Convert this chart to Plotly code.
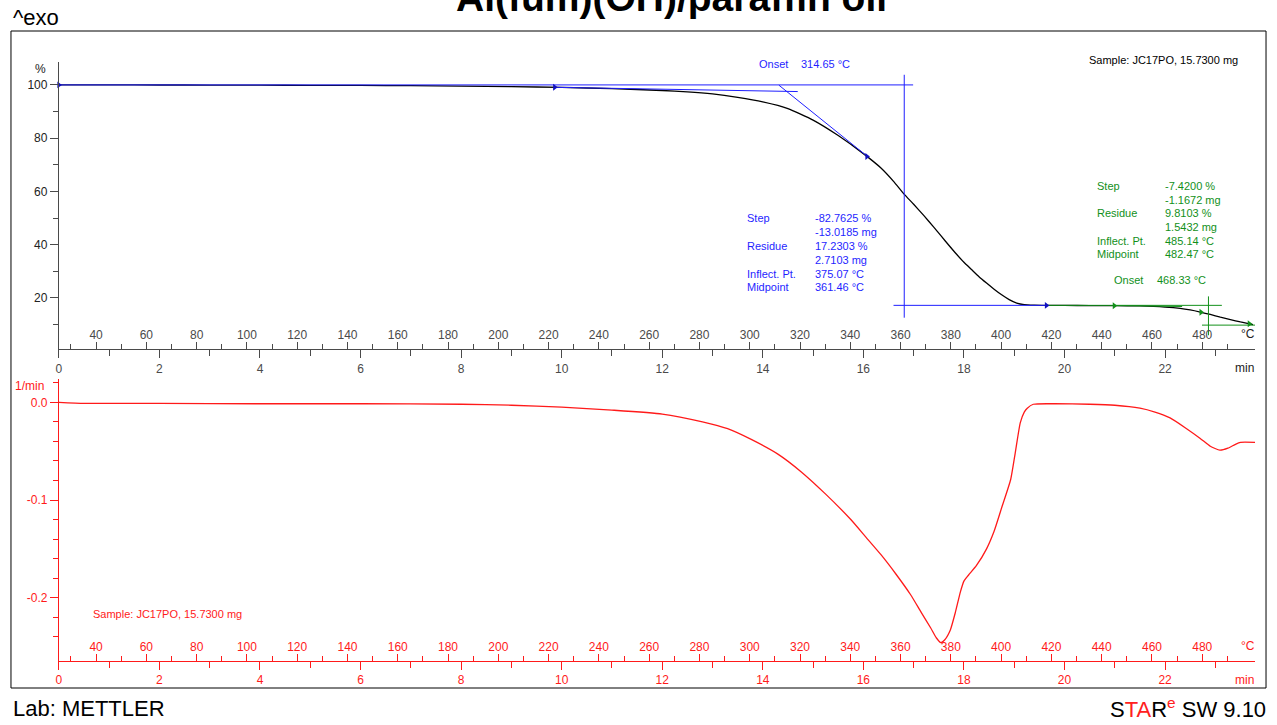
import numpy as np
import plotly.graph_objects as go

W, H = 1277, 725

# Heating program: linear 20 K/min ramp starting at 25.2 °C
T_START = 25.2
HEAT_RATE = 20.0
T_RANGE_MIN = 23.79

# TGA curve: time (min) -> mass (%)
tga_time = [0, 1, 2, 3, 4, 5, 6, 7, 8, 9, 10, 11, 12, 12.5, 13, 13.5, 14, 14.5, 15,
            15.5, 16, 16.35, 16.6, 16.81, 17, 17.2, 17.4, 17.55, 17.7, 17.85, 18,
            18.15, 18.3, 18.45, 18.6, 18.75, 18.9, 19.05, 19.2, 19.4, 19.7, 20, 20.5,
            21, 21.5, 22, 22.3, 22.5, 22.7, 22.9, 23.1, 23.3, 23.5, 23.75]
tga_mass = [100.0, 100.0, 99.97, 99.95, 99.9, 99.85, 99.8, 99.7, 99.55, 99.35, 99.05,
            98.6, 97.9, 97.4, 96.6, 95.3, 93.6, 91.1, 86.8, 81.0, 74.2, 68.8, 63.8,
            59.0, 55.2, 51.0, 46.6, 43.2, 39.8, 36.5, 33.4, 30.7, 28.0, 25.6, 23.3,
            21.2, 19.4, 18.1, 17.5, 17.3, 17.2, 17.2, 17.15, 17.1, 17.0, 16.6, 16.1,
            15.5, 14.7, 13.8, 12.8, 11.9, 11.0, 10.0]

# First derivative (DTG): time (min) -> rate (1/min)
dtg_time = [0, 0.5, 2, 4, 6, 8, 9, 10, 11, 12, 12.8, 13.3, 13.77, 14.3, 14.76, 15.25,
            15.75, 16.05, 16.35, 16.65, 16.94, 17.15, 17.34, 17.45, 17.54, 17.62,
            17.73, 17.83, 17.93, 18.0, 18.09, 18.25, 18.45, 18.6, 18.75, 18.93, 19.02,
            19.12, 19.2, 19.26, 19.38, 19.8, 20.5, 21.0, 21.5, 21.8, 22.1, 22.4, 22.7,
            22.9, 23.09, 23.25, 23.4, 23.5, 23.79]
dtg_rate = [0.0, -0.001, -0.001, -0.0015, -0.0015, -0.002, -0.003, -0.005, -0.008,
            -0.012, -0.02, -0.027, -0.038, -0.053, -0.071, -0.094, -0.12, -0.138,
            -0.156, -0.176, -0.197, -0.215, -0.231, -0.241, -0.246, -0.243, -0.233,
            -0.215, -0.194, -0.183, -0.177, -0.167, -0.150, -0.132, -0.108, -0.079,
            -0.052, -0.021, -0.010, -0.006, -0.002, -0.0015, -0.002, -0.003, -0.006,
            -0.010, -0.016, -0.026, -0.037, -0.045, -0.049, -0.047, -0.043, -0.041,
            -0.041]

# Axis ticks
time_ticks = list(range(0, 23, 2))
time_minor = list(range(1, 24, 2))
temp_ticks = list(range(40, 481, 20))
temp_minor = list(range(30, 491, 20))
mass_ticks = [20, 40, 60, 80, 100]
mass_minor = [10, 30, 50, 70, 90]
rate_ticks = [-0.2, -0.1, 0.0]
rate_labels = ["-0.2", "-0.1", "0.0"]
rate_minor = [-0.26, -0.24, -0.22, -0.18, -0.16, -0.14, -0.12, -0.08, -0.06, -0.04,
              -0.02, 0.02]

# Step evaluation 1 (blue) — construction lines in °C / %
step1_level_T, step1_level_y = [25.2, 365.0], [100.0, 100.0]
step1_mid_T, step1_mid_y = [361.46, 361.46], [103.8, 12.6]
step1_res_T, step1_res_y = [357.2, 418.0], [17.23, 17.23]
step1_base_T, step1_base_y = [222.4, 319.1], [99.1, 97.5]
step1_tan_T, step1_tan_y = [311.6, 346.6], [99.9, 73.3]
step1_marks_T = [25.2, 222.4, 346.6, 418.0]

# Step evaluation 2 (green)
step2_level_T, step2_level_y = [418.0, 487.8], [17.23, 17.23]
step2_base_T, step2_base_y = [445.0, 472.0], [17.15, 16.8]
step2_mid_T, step2_mid_y = [482.47, 482.47], [20.6, 6.0]
step2_res_T, step2_res_y = [479.9, 501.0], [9.81, 9.81]
step2_marks_T = [445.0, 479.5, 498.7]

BLUE = "#1f1fff"
GREEN = "#12901a"
RED = "#ff1a1a"
AXIS_GREY = "#4a4a4a"
TICK_FONT = "Liberation Sans"

tga_T = T_START + HEAT_RATE * np.asarray(tga_time, dtype=float)


def on_curve(temps):
    return list(np.interp(temps, tga_T, tga_mass))


fig = go.Figure()

fig.add_trace(go.Scatter(x=tga_time, y=tga_mass, mode="lines", xaxis="x", yaxis="y",
                         line=dict(color="black", width=1.3, shape="spline", smoothing=0.5)))
fig.add_trace(go.Scatter(x=dtg_time, y=dtg_rate, mode="lines", xaxis="x3", yaxis="y2",
                         line=dict(color=RED, width=1.3, shape="spline", smoothing=0.5)))

# construction lines (temperature axes)
for xs, ys in [(step1_level_T, step1_level_y), (step1_mid_T, step1_mid_y),
               (step1_res_T, step1_res_y), (step1_base_T, step1_base_y),
               (step1_tan_T, step1_tan_y)]:
    fig.add_trace(go.Scatter(x=xs, y=ys, mode="lines", xaxis="x2", yaxis="y",
                             line=dict(color=BLUE, width=1)))
for xs, ys in [(step2_level_T, step2_level_y), (step2_base_T, step2_base_y),
               (step2_mid_T, step2_mid_y), (step2_res_T, step2_res_y)]:
    fig.add_trace(go.Scatter(x=xs, y=ys, mode="lines", xaxis="x2", yaxis="y",
                             line=dict(color=GREEN, width=1)))

fig.add_trace(go.Scatter(x=step1_marks_T, y=on_curve(step1_marks_T), mode="markers",
                         xaxis="x2", yaxis="y", cliponaxis=False,
                         marker=dict(symbol="triangle-right", size=6, color="#1010c0")))
fig.add_trace(go.Scatter(x=step2_marks_T, y=on_curve(step2_marks_T), mode="markers",
                         xaxis="x2", yaxis="y", cliponaxis=False,
                         marker=dict(symbol="triangle-right", size=6, color=GREEN)))
# keeps the lower temperature axis attached to a subplot
fig.add_trace(go.Scatter(x=[T_START], y=[0.0], mode="markers", xaxis="x4", yaxis="y2",
                         marker=dict(size=1, opacity=0), hoverinfo="skip"))

XDOM = [56 / W, 1255 / W]
T_RANGE = [T_START, T_START + HEAT_RATE * T_RANGE_MIN]


def time_axis(anchor, color):
    return dict(domain=XDOM, anchor=anchor, range=[0, T_RANGE_MIN], showgrid=False,
                zeroline=False, showline=True, linecolor=color, linewidth=1,
                tickmode="array", tickvals=time_ticks, ticks="outside", ticklen=8,
                tickcolor=color, tickwidth=1,
                tickfont=dict(family=TICK_FONT, size=12, color=color),
                minor=dict(tickvals=time_minor, ticks="outside", ticklen=6,
                           tickcolor=color, tickwidth=1))


def temp_axis(anchor, overlaying, color):
    return dict(domain=XDOM, anchor=anchor, overlaying=overlaying, side="bottom",
                range=T_RANGE, showgrid=False, zeroline=False, showline=False,
                tickmode="array", tickvals=temp_ticks, ticks="inside", ticklen=7,
                tickcolor=color, tickwidth=1, ticklabelposition="inside",
                tickfont=dict(family=TICK_FONT, size=12, color=color),
                minor=dict(tickvals=temp_minor, ticks="inside", ticklen=5,
                           tickcolor=color, tickwidth=1))


fig.update_layout(
    width=W, height=H, autosize=False,
    margin=dict(l=0, r=0, t=0, b=0),
    paper_bgcolor="white", plot_bgcolor="white", showlegend=False,
    xaxis=time_axis("y", AXIS_GREY),
    xaxis2=temp_axis("y", "x", AXIS_GREY),
    xaxis3=time_axis("y2", RED),
    xaxis4=temp_axis("y2", "x3", RED),
    yaxis=dict(domain=[1 - 349.3 / H, 1 - 62 / H], anchor="x", range=[0.73, 108.6],
               showgrid=False, zeroline=False, showline=True, linecolor=AXIS_GREY,
               tickmode="array", tickvals=mass_ticks, ticks="outside", ticklen=8,
               tickcolor=AXIS_GREY, tickfont=dict(family=TICK_FONT, size=12, color="#222"),
               minor=dict(tickvals=mass_minor, ticks="outside", ticklen=5,
                          tickcolor=AXIS_GREY)),
    yaxis2=dict(domain=[1 - 661 / H, 1 - 379 / H], anchor="x3", range=[-0.2648, 0.02385],
                showgrid=False, zeroline=False, showline=True, linecolor=RED,
                tickmode="array", tickvals=rate_ticks, ticktext=rate_labels,
                ticks="outside", ticklen=8, tickcolor=RED,
                tickfont=dict(family=TICK_FONT, size=12, color=RED),
                minor=dict(tickvals=rate_minor, ticks="outside", ticklen=5,
                           tickcolor=RED)),
)

fig.add_shape(type="rect", xref="paper", yref="paper", x0=8 / W, x1=1266 / W,
              y0=1 - 688 / H, y1=1 - 31 / H, line=dict(color="black", width=1))


def note(x, y, text, color="black", size=11, anchor="left", family=TICK_FONT):
    fig.add_annotation(x=x / W, y=1 - y / H, xref="paper", yref="paper", text=text,
                       showarrow=False, xanchor=anchor, yanchor="middle",
                       font=dict(family=family, size=size, color=color))


# header / footer
note(670, -3, "<b>Al(fum)(OH)/paraffin oil</b>", size=39, anchor="center")
note(8, 18, "^exo", size=22)
note(8, 708, "Lab: METTLER", size=22)
note(1268, 708, "S<span style='color:#ff2020'>TA</span>R<sup><span style='color:#ff2020'>e</span></sup> SW 9.10",
     size=22, anchor="right")

# axis units
note(38, 69, "%", size=12, anchor="center", color="#222")
note(43, 386, "1/min", size=12, anchor="right", color=RED)
note(1248, 334, "°C", size=12, anchor="center", color="#222")
note(1244, 368, "min", size=12, anchor="center", color="#222")
note(1248, 646, "°C", size=12, anchor="center", color=RED)
note(1244, 680, "min", size=12, anchor="center", color=RED)

note(1087, 60, "Sample: JC17PO, 15.7300 mg")
note(88, 614, "Sample: JC17PO, 15.7300 mg", color=RED)

# step 1 results
note(756, 64, "Onset", color=BLUE)
note(798, 64, "314.65 °C", color=BLUE)
step1_labels = ["Step", "", "Residue", "", "Inflect. Pt.", "Midpoint"]
step1_values = ["-82.7625 %", "-13.0185 mg", "17.2303 %", "2.7103 mg", "375.07 °C", "361.46 °C"]
for i, (lab, val) in enumerate(zip(step1_labels, step1_values)):
    y = 218.3 + i * 13.8
    if lab:
        note(744, y, lab, color=BLUE)
    note(812, y, val, color=BLUE)

# step 2 results
step2_labels = ["Step", "", "Residue", "", "Inflect. Pt.", "Midpoint"]
step2_values = ["-7.4200 %", "-1.1672 mg", "9.8103 %", "1.5432 mg", "485.14 °C", "482.47 °C"]
for i, (lab, val) in enumerate(zip(step2_labels, step2_values)):
    y = 186 + i * 13.65
    if lab:
        note(1095, y, lab, color=GREEN)
    note(1163, y, val, color=GREEN)
note(1112, 280, "Onset", color=GREEN)
note(1155, 280, "468.33 °C", color=GREEN)

fig.write_html("out.html")
